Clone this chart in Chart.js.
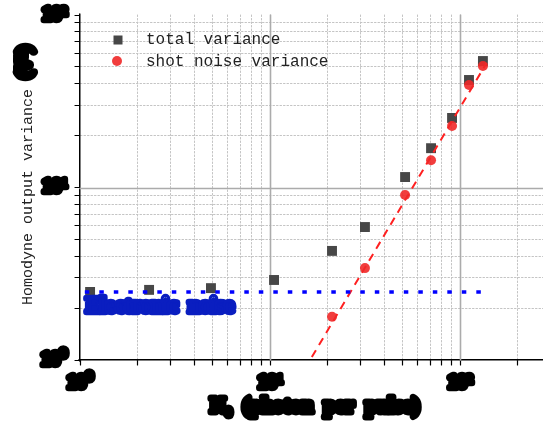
<!DOCTYPE html>
<html><head><meta charset="utf-8">
<script src="https://cdn.jsdelivr.net/npm/chart.js@4.4.1/dist/chart.umd.min.js"></script>
<style>html,body{margin:0;padding:0;background:#fff;overflow:hidden}#wrap{width:543px;height:423px;position:relative}</style>
</head><body><div id="wrap"><canvas id="c"></canvas></div>
<script>
// ---- data ----
const photonNumbers = [1.13, 2.31, 4.89, 10.5, 21.2, 31.6, 51.4, 70.4, 90.8, 111.5, 132];
const totalVariance = [2.48, 2.55, 2.61, 2.91, 4.29, 5.90, 11.5, 16.9, 25.3, 42.0, 54.1];
const shotPhotonNumbers = [21.2, 31.6, 51.4, 70.4, 90.8, 111.5, 132];
const shotNoiseVariance = [1.78, 3.41, 9.05, 14.4, 22.7, 39.3, 50.6];
const electronicNoiseX = [1.06, 133.7];
const electronicNoiseLevel = [2.48, 2.48];
const fitLineX = [16.6, 138];
const fitLineY = [1.04, 52.7];
const xTickValues = [1,2,3,4,5,6,7,8,9,10,20,30,40,50,60,70,80,90,100,200];
const yTickValues = [1,2,3,4,5,6,7,8,9,10,20,30,40,50,60,70,80,90,100];
const decadeValues = [1, 10, 100];
const decadeLabels = ['10\u2070', '10\u00B9', '10\u00B2'];
const seriesNames = ['total variance', 'shot noise variance'];
const annotationText = 'Electronic  noise';
const annotationAt = [1.075, 2.03];
const xTitle = 'N\u2080  (photon  per  pulse)';
const yTitle = 'Homodyne output variance';
const yUnit = '(V\u00B2)';
const xRange = [1, 273.4];
const yRange = [1, 100];

// ---- helpers ----
const isDecade = v => decadeValues.some(d => Math.abs(d - v) < 1e-9);
const toPts = (xs, ys) => xs.map((x, i) => ({x, y: ys[i]}));

function blobText(ctx, text, x, y, font, color, sw, align, baseline, spacing) {
  ctx.save();
  ctx.font = font; ctx.textAlign = align; ctx.textBaseline = baseline;
  if (spacing) ctx.letterSpacing = spacing;
  ctx.lineJoin = 'round'; ctx.lineCap = 'round'; ctx.lineWidth = sw;
  ctx.strokeStyle = color; ctx.fillStyle = color;
  ctx.strokeText(text, x, y); ctx.fillText(text, x, y);
  ctx.restore();
}

const decor = {
  id: 'decor',
  beforeDraw(chart) {
    chart.ctx.lineJoin = 'round';
    chart.ctx.lineCap = 'round';
  },
  beforeDatasetsDraw(chart) {
    const {ctx, chartArea: a, scales: {x, y}} = chart;
    ctx.save();
    ctx.strokeStyle = '#ababab'; ctx.lineWidth = 1.6; ctx.setLineDash([]);
    decadeValues.forEach(v => {
      if (v > xRange[0] && v < xRange[1]) {
        const px = Math.round(x.getPixelForValue(v)) + 0.5;
        ctx.beginPath(); ctx.moveTo(px, a.top); ctx.lineTo(px, a.bottom); ctx.stroke();
      }
      if (v > yRange[0] && v < yRange[1]) {
        const py = Math.round(y.getPixelForValue(v)) + 0.5;
        ctx.beginPath(); ctx.moveTo(a.left, py); ctx.lineTo(a.right, py); ctx.stroke();
      }
    });
    ctx.restore();
  },
  afterDraw(chart) {
    const {ctx, scales: {x, y}} = chart;
    // annotation
    blobText(ctx, annotationText, x.getPixelForValue(annotationAt[0]), y.getPixelForValue(annotationAt[1]),
      'bold 21px "Liberation Serif"', '#0a1ec0', 6.5, 'left', 'middle');
    // legend
    ctx.save();
    const ds = chart.data.datasets;
    ctx.fillStyle = ds[0].backgroundColor;
    ctx.fillRect(113.5, 35.5, 9, 9);
    ctx.fillStyle = ds[1].backgroundColor;
    ctx.beginPath(); ctx.arc(117, 61, 5, 0, Math.PI * 2); ctx.fill();
    ctx.fillStyle = '#222';
    ctx.font = '16px "Liberation Mono"'; ctx.textBaseline = 'middle'; ctx.textAlign = 'left';
    ctx.fillText(seriesNames[0], 146, 40);
    ctx.fillText(seriesNames[1], 146, 62);
    ctx.restore();
    // x title
    blobText(ctx, xTitle, 315, 407, 'bold 20px "Liberation Serif"', '#000', 7, 'center', 'middle', '0.5px');
    // y title
    ctx.save();
    ctx.translate(28, 305); ctx.rotate(-Math.PI / 2);
    ctx.fillStyle = '#222'; ctx.font = '15px "Liberation Mono"';
    ctx.textAlign = 'left'; ctx.textBaseline = 'middle';
    ctx.fillText(yTitle, 0, 0);
    ctx.restore();
    ctx.save();
    ctx.translate(25, 62); ctx.rotate(-Math.PI / 2);
    blobText(ctx, yUnit, 0, 0, 'bold 19px "Liberation Serif"', '#000', 8, 'center', 'middle');
    ctx.restore();
  }
};

const gridColor = c => {
  const v = c.tick ? c.tick.value : null;
  if (v === null || isDecade(v)) return 'rgba(0,0,0,0)';
  return '#c4c4c4';
};
const tickCb = v => { const i = decadeValues.findIndex(d => Math.abs(d - v) < 1e-9); return i >= 0 ? decadeLabels[i] : ''; };
const fixTicks = vals => s => { s.ticks = vals.filter(v => v >= s.min && v <= s.max).map(v => ({value: v})); };
const tickFont = { family: 'Liberation Serif', weight: 'bold', size: 19 };

new Chart(document.getElementById('c'), {
  type: 'scatter',
  data: {
    datasets: [
      { label: seriesNames[0], data: toPts(photonNumbers, totalVariance), pointStyle: 'rect', pointRadius: 7,
        backgroundColor: '#474747', borderWidth: 0, showLine: false, order: 3 },
      { label: seriesNames[1], data: toPts(shotPhotonNumbers, shotNoiseVariance), pointStyle: 'circle', pointRadius: 5,
        backgroundColor: 'rgba(240,40,40,0.9)', borderWidth: 0, showLine: false, order: 1 },
      { label: 'electronic noise', data: toPts(electronicNoiseX, electronicNoiseLevel), showLine: true, pointRadius: 0,
        borderColor: '#0000ff', borderWidth: 3.5, borderDash: [4.5, 10], borderCapStyle: 'butt', order: 0 },
      { label: 'fit', data: toPts(fitLineX, fitLineY), showLine: true, pointRadius: 0,
        borderColor: '#ff2020', borderWidth: 2, borderDash: [8, 6], borderCapStyle: 'butt', order: 2 }
    ]
  },
  options: {
    responsive: true, maintainAspectRatio: false, animation: false,
    layout: { autoPadding: false, padding: { top: 15, left: 0, right: 0, bottom: 0 } },
    plugins: { legend: { display: false }, tooltip: { enabled: false } },
    scales: {
      x: {
        type: 'logarithmic', min: xRange[0], max: xRange[1],
        afterBuildTicks: fixTicks(xTickValues),
        afterFit: s => { s.height = 63; s.paddingLeft = s.paddingRight = s.paddingTop = s.paddingBottom = 0; },
        grid: { color: gridColor, lineWidth: 1, tickColor: '#000', tickWidth: 1.2, tickLength: 5, tickBorderDash: [], drawTicks: true },
        border: { display: true, color: '#000', width: 1.5, dash: [1.5, 2] },
        ticks: { autoSkip: false, maxRotation: 0, minRotation: 0, callback: tickCb, padding: 7,
          font: tickFont, color: '#000', textStrokeColor: '#000', textStrokeWidth: 6.5 }
      },
      y: {
        type: 'logarithmic', min: yRange[0], max: yRange[1],
        afterBuildTicks: fixTicks(yTickValues),
        afterFit: s => { s.width = 80; s.paddingLeft = s.paddingRight = s.paddingTop = s.paddingBottom = 0; },
        grid: { color: gridColor, lineWidth: 1, tickColor: '#000', tickWidth: 1.2, tickLength: 5, tickBorderDash: [], drawTicks: true },
        border: { display: true, color: '#000', width: 1.5, dash: [1.5, 2] },
        ticks: { autoSkip: false, callback: tickCb, padding: 8,
          font: tickFont, color: '#000', textStrokeColor: '#000', textStrokeWidth: 6.5 }
      }
    }
  },
  plugins: [decor]
});
</script>
</body></html>
